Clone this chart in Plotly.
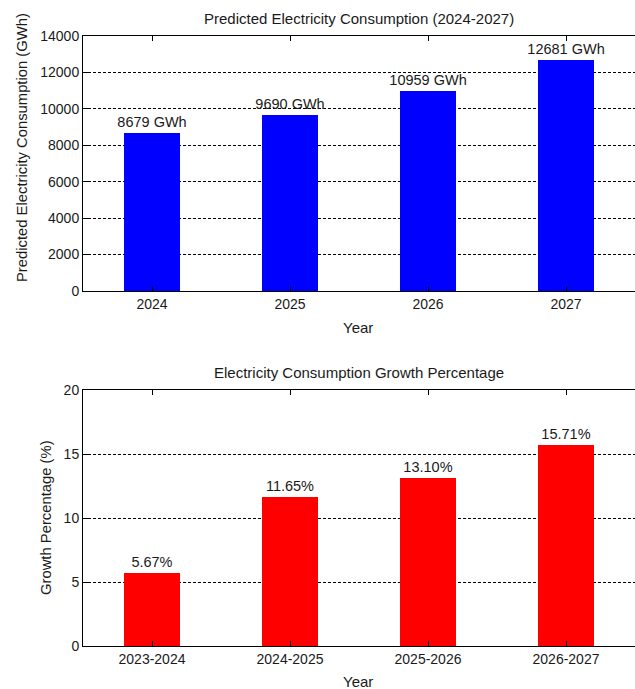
import plotly.graph_objects as go

years = ["2024", "2025", "2026", "2027"]
consumption = [8679, 9690, 10959, 12681]
periods = ["2023-2024", "2024-2025", "2025-2026", "2026-2027"]
growth = [5.67, 11.65, 13.10, 15.71]

W, H = 635, 689
FONT = "Liberation Sans, Arial, sans-serif"
TXT = "#1a1a1a"

def py(p):
    return 1 - p / H

def px(p):
    return p / W

fig = go.Figure()
fig.add_trace(go.Bar(x=years, y=consumption, width=0.4, marker=dict(color="#0000FF", line=dict(width=0)),
                     texttemplate="%{y:d} GWh", textposition="outside", cliponaxis=False,
                     constraintext="none",
                     textfont=dict(size=14.5, color=TXT, family=FONT), xaxis="x", yaxis="y",
                     showlegend=False))
fig.add_trace(go.Bar(x=periods, y=growth, width=0.4, marker=dict(color="#FF0000", line=dict(width=0)),
                     texttemplate="%{y:.2f}%", textposition="outside", cliponaxis=False,
                     constraintext="none",
                     textfont=dict(size=14.5, color=TXT, family=FONT), xaxis="x2", yaxis="y2",
                     showlegend=False))

xcommon = dict(showline=True, linecolor="black", linewidth=1, mirror="ticks", ticks="inside",
               ticklen=5, tickcolor="black", showgrid=False, range=[-0.5, 3.5], automargin=False,
               domain=[px(83), 1], tickfont=dict(size=14, color=TXT, family=FONT))
ycommon = dict(showline=True, linecolor="black", linewidth=1, ticks="inside", ticklen=5,
               tickcolor="black", showgrid=True, gridcolor="black", gridwidth=1,
               griddash="3px,2px", zeroline=False, automargin=False, tickformat="d",
               tickfont=dict(size=14, color=TXT, family=FONT))

def label(text, x, y, angle=0, size=14):
    return dict(text=text, x=px(x), y=py(y), xref="paper", yref="paper", showarrow=False,
                xanchor="center", yanchor="middle", textangle=angle,
                font=dict(size=size, color=TXT, family=FONT))

fig.update_layout(
    width=W, height=H, plot_bgcolor="white", paper_bgcolor="white",
    margin=dict(l=0, r=0, t=0, b=0), bargap=0,
    font=dict(family=FONT, color=TXT),
    xaxis=dict(**xcommon, anchor="y"),
    yaxis=dict(**ycommon, anchor="x", domain=[py(291), py(36)], range=[0, 14000], dtick=2000),
    xaxis2=dict(**xcommon, anchor="y2"),
    yaxis2=dict(**ycommon, anchor="x2", domain=[py(646), py(390)], range=[0, 20], dtick=5),
    annotations=[
        label("Predicted Electricity Consumption (2024-2027)", 359, 18, size=15),
        label("Electricity Consumption Growth Percentage", 359, 372, size=15),
        label("Year", 358, 327, size=15),
        label("Year", 358, 681, size=15),
        label("Predicted Electricity Consumption (GWh)", 22, 148, -90, size=14.8),
        label("Growth Percentage (%)", 46, 518, -90, size=14.8),
    ],
)

fig.write_html("out.html", config={"displayModeBar": False},
               post_script="document.body.style.margin='0';")
